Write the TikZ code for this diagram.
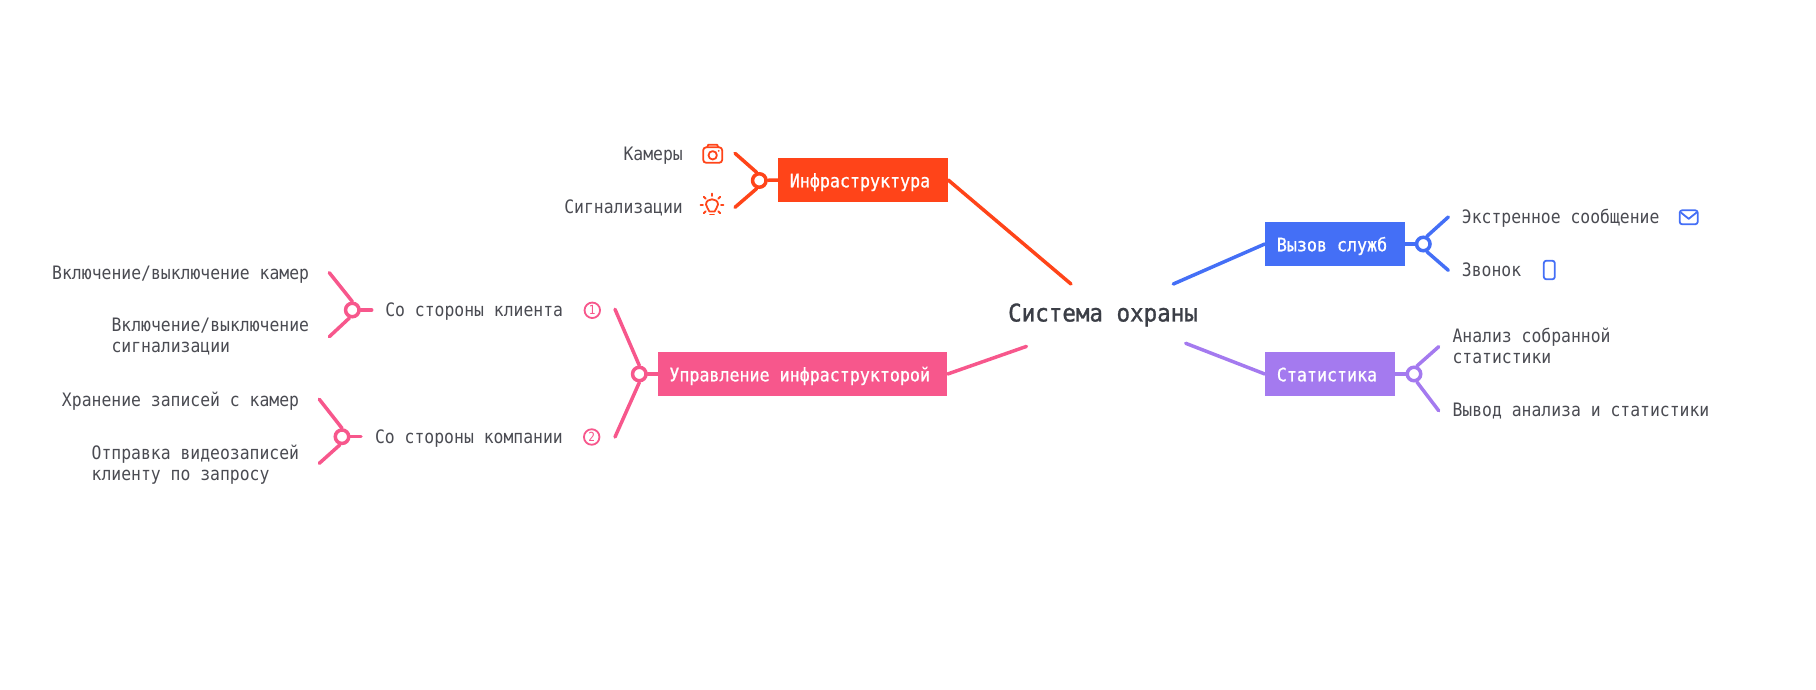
\documentclass[tikz,border=0pt]{standalone}
\usepackage{fontspec}
\setmainfont[FakeStretch=0.887]{DejaVu Sans Mono}
\newfontfamily\boxmono[FakeBold=0.8, FakeStretch=0.9]{DejaVu Sans Mono}
\newfontfamily\rootmono[FakeBold=1.2, FakeStretch=0.926]{DejaVu Sans Mono}
\definecolor{orangeline}{HTML}{FF4419}
\definecolor{pinkline}{HTML}{F7578C}
\definecolor{blueline}{HTML}{446FF6}
\definecolor{purpleline}{HTML}{A47AEF}
\definecolor{leaftext}{HTML}{4A4B52}
\definecolor{roottext}{HTML}{3B3E46}
\tikzset{
	branch/.style={rectangle, fill=#1, text=white, minimum height=44pt, inner sep=0pt, text height=16pt, text depth=1.4pt, font=\fontsize{18.5}{21}\boxmono, execute at end node={\hspace{6pt}}},
	joint/.style={circle, draw=#1, fill=white, line width=3.5pt, minimum size=13.5pt, inner sep=0pt},
	link/.style={line width=3.5pt, line cap=round, #1},
	leafl/.style={anchor=mid west, yshift=-3.5pt, inner sep=0pt, align=left, text=leaftext, font=\fontsize{18.5}{21}\selectfont},
	leafr/.style={anchor=mid east, yshift=-3.5pt, inner sep=0pt, align=left, text=leaftext, font=\fontsize{18.5}{21}\selectfont},
	badge/.style={circle, draw=pinkline, text=pinkline, line width=1.8pt, minimum size=15.5pt, inner sep=0pt, font=\fontsize{12.5}{13}\selectfont},
	icon/.style={line width=1.8pt, line cap=round, line join=round, #1},
	campic/.pic={
		\draw[icon=orangeline, rounded corners=3pt] (-9.5,-7) rectangle (9.5,8.5);
		\draw[icon=orangeline] (-5.5,-7) -- (-4.5,-9.5) -- (4.5,-9.5) -- (5.5,-7);
		\draw[icon=orangeline] (0,1) circle (4.2);
		\fill[orangeline] (6,-3.5) circle (1);
	},
	bulbpic/.pic={
		\draw[icon=orangeline] (-2.6,4.5) .. controls (-3,1.5) and (-6,1) .. (-6,-2.5) .. controls (-6,-9.5) and (6,-9.5) .. (6,-2.5) .. controls (6,1) and (3,1.5) .. (2.6,4.5) -- cycle;
		\draw[icon=orangeline] (-2,7.5) -- (2,7.5);
		\foreach \ang in {0,45,90,135,180,225,315}
			\draw[icon=orangeline] ($(0,-2)+(-\ang:9)$) -- ($(0,-2)+(-\ang:11.5)$);
	},
	mailpic/.pic={
		\draw[icon=blueline, rounded corners=2.5pt] (-9,-7) rectangle (9,7);
		\draw[icon=blueline] (-7.5,-4.5) -- (0,1.5) -- (7.5,-4.5);
	},
	phonepic/.pic={
		\draw[icon=blueline, rounded corners=2.5pt] (-5.5,-9.3) rectangle (5.5,9.3);
	}
}
\usetikzlibrary{calc}
\begin{document}
\begin{tikzpicture}[x=1pt, y=-1pt]
	\useasboundingbox (0,0) rectangle (1816,690);
	% center
	\node[text=roottext, font=\fontsize{24.3}{26}\rootmono] (R) at (1103,315) {Система охраны};
	\coordinate (RI) at (1071,284);
	\coordinate (RV) at (1173.3,284);
	\coordinate (RS) at (1185.7,343.3);
	\coordinate (RU) at (1026.5,346.4);
	% branches
	\node[branch=orangeline, minimum width=170pt] (Inf) at (863,180) {Инфраструктура};
	\node[branch=blueline, minimum width=140pt] (Vyz) at (1335,244) {Вызов служб};
	\node[branch=purpleline, minimum width=130pt] (Sta) at (1330,374) {Статистика};
	\node[branch=pinkline, minimum width=289.5pt] (Upr) at (802.7,374) {Управление инфраструкторой};
	\draw[link=orangeline] (Inf.east) -- (RI);
	\draw[link=blueline] (Vyz.west) -- (RV);
	\draw[link=purpleline] (Sta.west) -- (RS);
	\draw[link=pinkline] (Upr.east) -- (RU);
	% Infrastruktura
	\node[joint=orangeline] (InfJ) at (759.3,180.5) {};
	\coordinate (InfA) at (735,153.3);
	\coordinate (InfB) at (735,207.3);
	\draw[link=orangeline] (InfJ) -- (Inf.west);
	\draw[link=orangeline] (InfJ.108) -- (InfA);
	\draw[link=orangeline] (InfJ.252) -- (InfB);
	\node[leafr] (Cam) at (683,154) {Камеры};
	\node[leafr] (Sig) at (683,207) {Сигнализации};
	\pic at (712.7,154.3) {campic};
	\pic at (712,207) {bulbpic};
	% Vyzov
	\node[joint=blueline] (VyzJ) at (1423.3,244) {};
	\coordinate (VyzA) at (1448.3,217);
	\coordinate (VyzB) at (1448.3,270.3);
	\draw[link=blueline] (VyzJ) -- (Vyz.east);
	\draw[link=blueline] (VyzJ.65) -- (VyzA);
	\draw[link=blueline] (VyzJ.295) -- (VyzB);
	\node[leafl] (Sos) at (1461.7,217) {Экстренное сообщение};
	\node[leafl] (Zvo) at (1461.7,270) {Звонок};
	\pic at (1688.7,217.3) {mailpic};
	\pic at (1549.3,270) {phonepic};
	% Statistika
	\node[joint=purpleline] (StaJ) at (1414,374) {};
	\coordinate (StaA) at (1438.7,346.7);
	\coordinate (StaB) at (1438.7,410.7);
	\draw[link=purpleline] (StaJ) -- (Sta.east);
	\draw[link=purpleline] (StaJ.70) -- (StaA);
	\draw[link=purpleline] (StaJ.290) -- (StaB);
	\node[leafl] (Ana) at (1452.3,357.7) {Анализ собранной\\статистики};
	\node[leafl] (Vyv) at (1452.3,410.7) {Вывод анализа и статистики};
	% Upravlenie
	\node[joint=pinkline] (UprJ) at (639.3,374) {};
	\coordinate (UprA) at (615,309.3);
	\coordinate (UprB) at (615,437);
	\draw[link=pinkline] (UprJ) -- (Upr.west);
	\draw[link=pinkline] (UprJ.90) -- (UprA);
	\draw[link=pinkline] (UprJ.270) -- (UprB);
	\node[badge] (One) at (592.3,310.3) {1};
	\node[badge] (Two) at (591.7,437) {2};
	\node[leafr] (Kli) at (563.3,310) {Со стороны клиента};
	\node[leafr] (Kom) at (563,437) {Со стороны компании};
	% klient
	\node[joint=pinkline] (KliJ) at (352.3,310) {};
	\coordinate (KliS) at (371.7,310);
	\coordinate (KliA) at (329.3,272.7);
	\coordinate (KliB) at (329.3,336.7);
	\draw[link=pinkline] (KliJ) -- (KliS);
	\draw[link=pinkline] (KliJ.90) -- (KliA);
	\draw[link=pinkline] (KliJ.250) -- (KliB);
	\node[leafr] (Vk) at (309.3,273.3) {Включение/выключение камер};
	\node[leafr] (Vs) at (309.3,346.7) {Включение/выключение\\сигнализации};
	% kompaniya
	\node[joint=pinkline] (KomJ) at (342,436.7) {};
	\coordinate (KomS) at (361,436.7);
	\coordinate (KomA) at (319.3,399.3);
	\coordinate (KomB) at (319.3,463.3);
	\draw[link=pinkline] (KomJ) -- (KomS);
	\draw[link=pinkline] (KomJ.90) -- (KomA);
	\draw[link=pinkline] (KomJ.255) -- (KomB);
	\node[leafr] (Hr) at (299.3,400.7) {Хранение записей с камер};
	\node[leafr] (Ot) at (299.3,474) {Отправка видеозаписей\\клиенту по запросу};
\end{tikzpicture}
\end{document}
